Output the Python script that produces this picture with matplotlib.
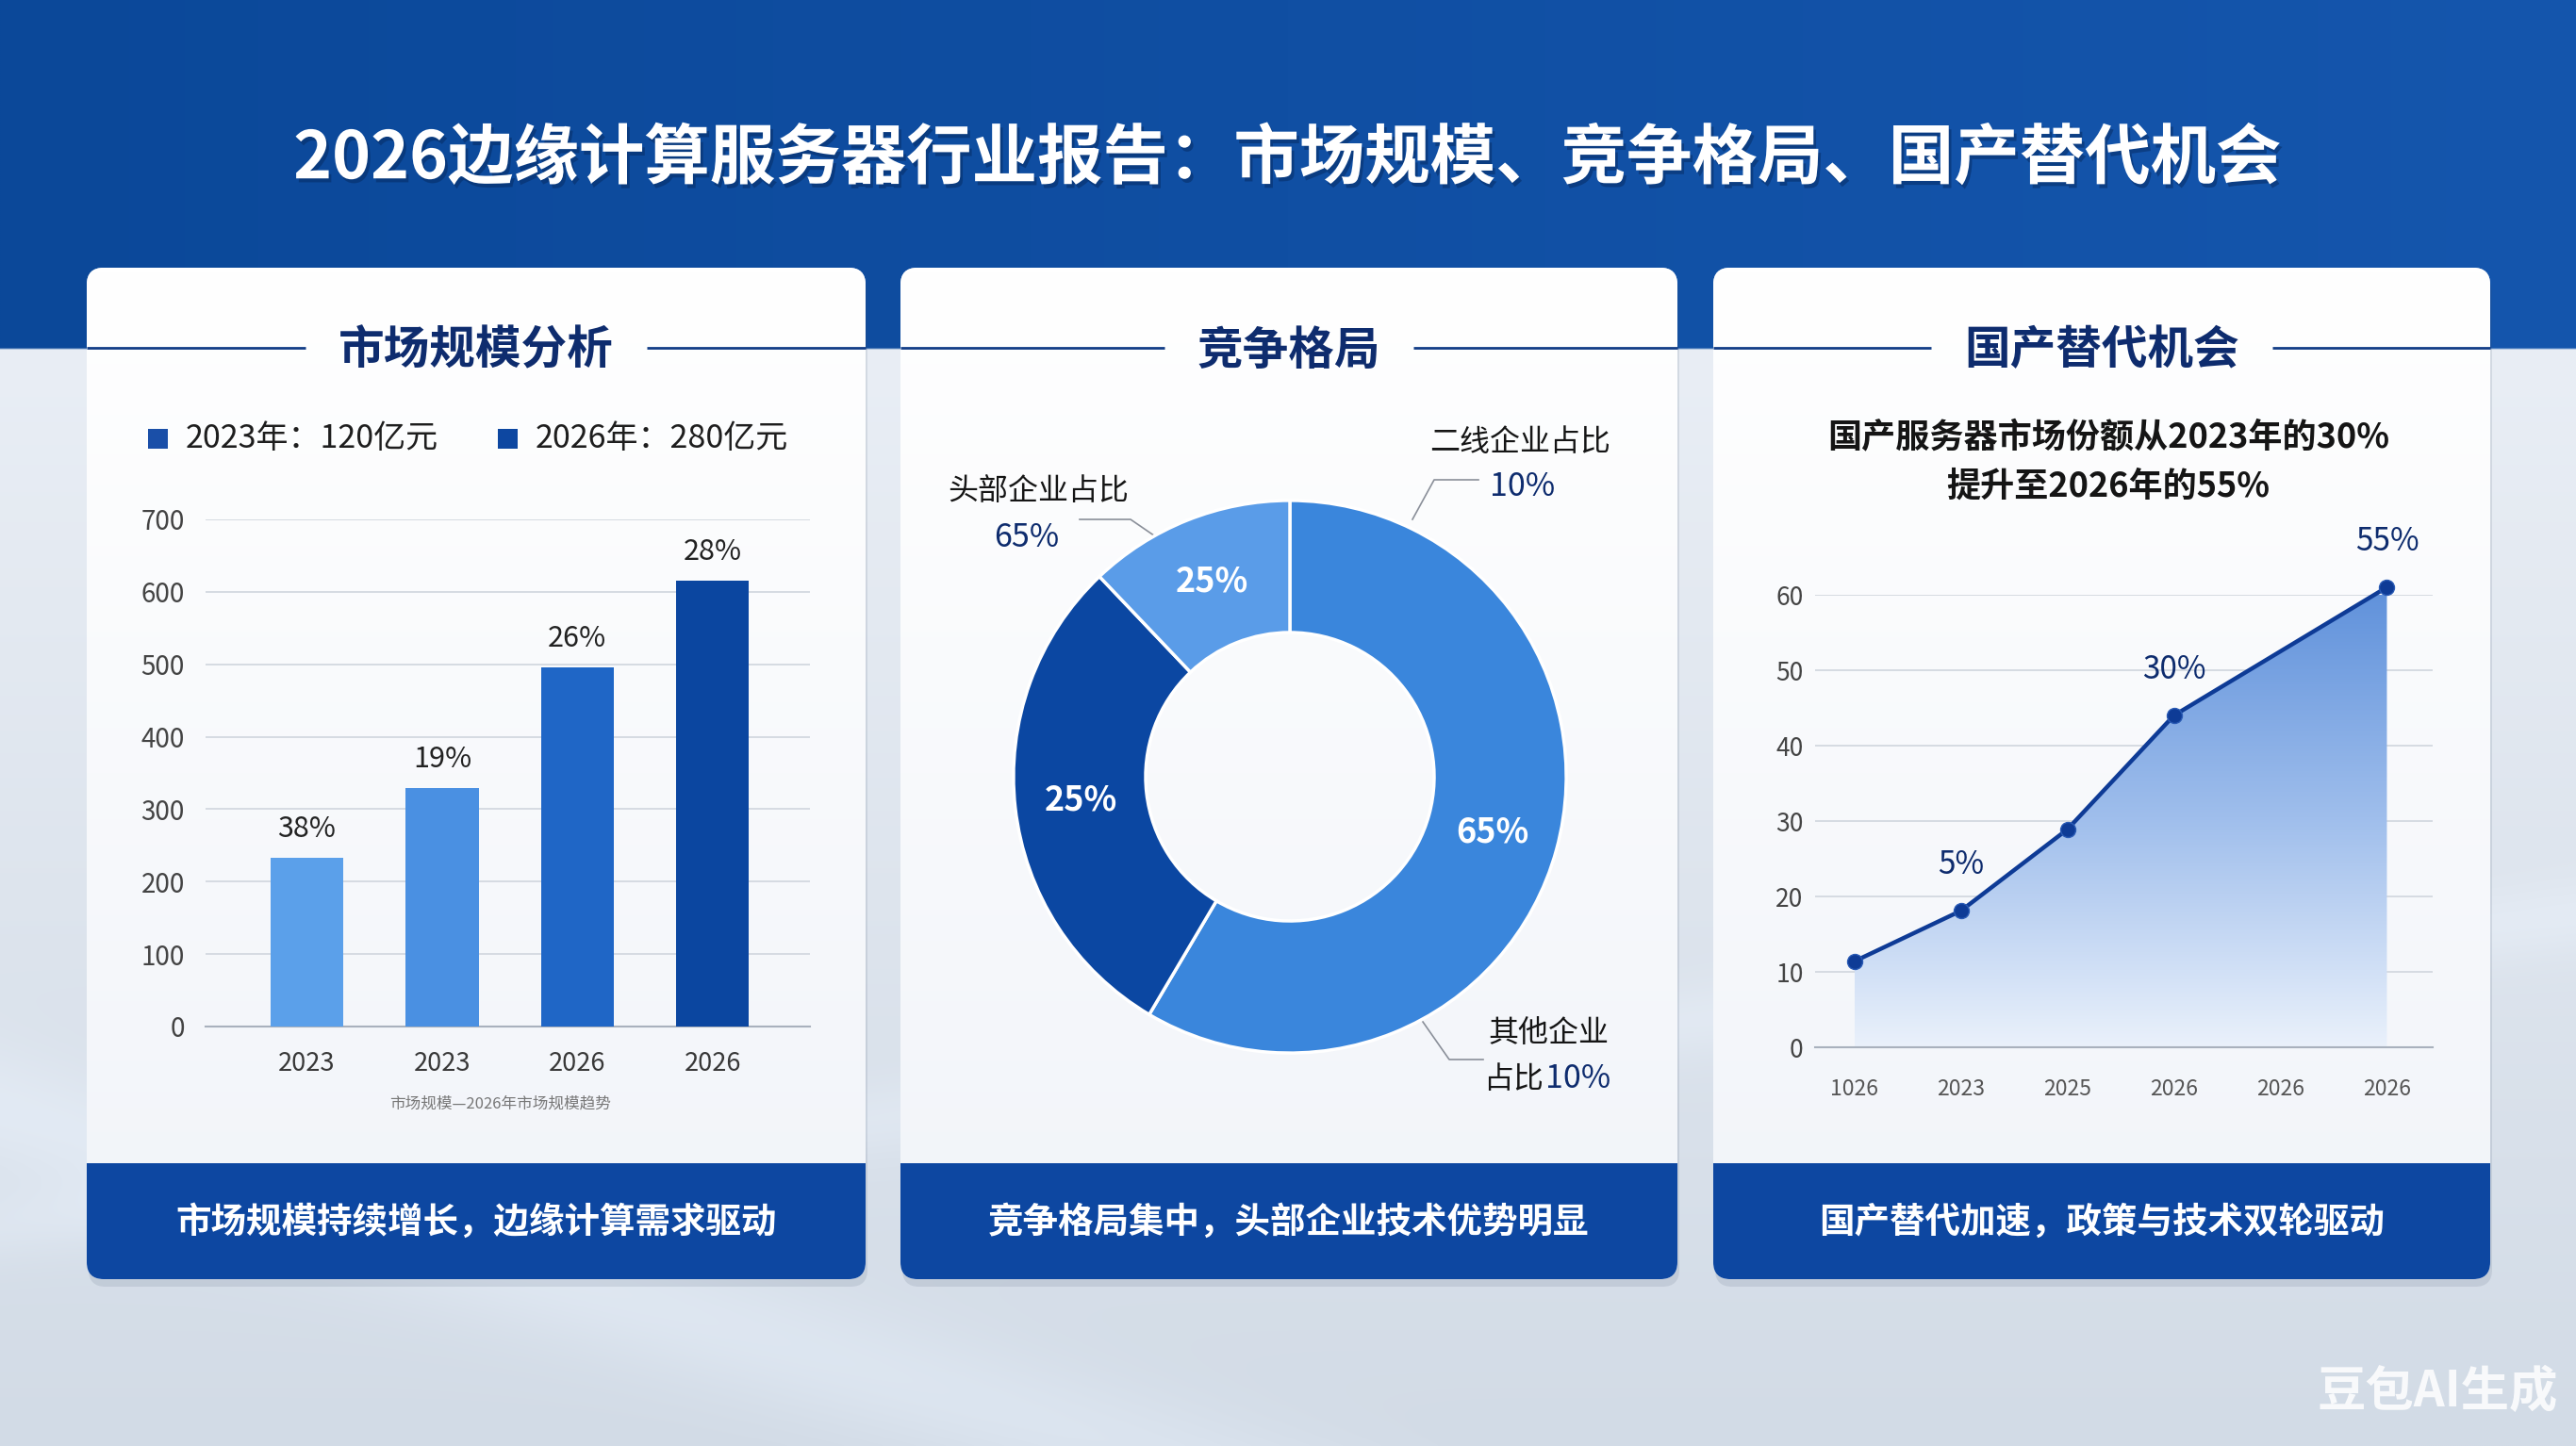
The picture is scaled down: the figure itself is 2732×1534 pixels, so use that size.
import matplotlib
matplotlib.use('Agg')
import matplotlib.pyplot as plt
import numpy as np
from matplotlib.patches import FancyBboxPatch, Rectangle, Polygon
from matplotlib.colors import LinearSegmentedColormap, to_rgb
import matplotlib.patheffects as pe

plt.rcParams['font.family'] = ['Noto Sans CJK SC', 'DejaVu Sans']

W, H = 2732, 1534
DPI = 100

# ---------------- data ----------------
title = "2026边缘计算服务器行业报告：市场规模、竞争格局、国产替代机会"
card_titles = ["市场规模分析", "竞争格局", "国产替代机会"]
card_footers = ["市场规模持续增长，边缘计算需求驱动",
                "竞争格局集中，头部企业技术优势明显",
                "国产替代加速，政策与技术双轮驱动"]

legend_labels = ["2023年：120亿元", "2026年：280亿元"]
bar_categories = ["2023", "2023", "2026", "2026"]
bar_values = [233, 329, 496, 615]
bar_labels = ["38%", "19%", "26%", "28%"]
bar_yticks = [0, 100, 200, 300, 400, 500, 600, 700]
bar_caption = "市场规模—2026年市场规模趋势"

pie_values = [58.5, 29.4, 12.1]
pie_inner_labels = ["65%", "25%", "25%"]
pie_name_top_left = ["头部企业占比", "65%"]
pie_name_top_right = ["二线企业占比", "10%"]
pie_name_bottom = ["其他企业", "占比", "10%"]

line_subtitle = ["国产服务器市场份额从2023年的30%", "提升至2026年的55%"]
line_xticklabels = ["1026", "2023", "2025", "2026", "2026", "2026"]
line_x_idx = [0, 1, 2, 3, 5]
line_values = [11.4, 18.1, 28.9, 44.0, 61.0]
line_point_labels = ["", "5%", "", "30%", "55%"]
line_yticks = [0, 10, 20, 30, 40, 50, 60]

watermark = "豆包AI生成"

# ---------------- colours ----------------
NAVY = '#0E2C6E'
FOOT = '#0D47A1'
bar_colors = ['#5BA0EA', '#4A90E2', '#1F66C6', '#0B46A0']
pie_colors = ['#3A86DC', '#0B47A2', '#5A9CE8']

fig = plt.figure(figsize=(W / DPI, H / DPI), dpi=DPI)
bg = fig.add_axes([0, 0, 1, 1])
bg.set_xlim(0, W)
bg.set_ylim(H, 0)
bg.axis('off')

# background image
hh, ww = 767, 1366
ys = np.linspace(0, H, hh)[:, None]
xs = np.linspace(0, W, ww)[None, :]
ctop_c = np.array(to_rgb('#E9EEF5'))
cbot_c = np.array(to_rgb('#D2DBE6'))
t = np.clip((ys - 370) / (H - 370), 0, 1)
img = np.ones((hh, ww, 3)) * (ctop_c * (1 - t[..., None]) + cbot_c * t[..., None])
d1 = ys - (0.30 * xs + 1180)
d2 = ys - (-0.12 * xs + 1300)
img += (np.exp(-(d1 / 70) ** 2) * 0.035)[..., None]
img += (np.exp(-(d2 / 40) ** 2) * 0.025)[..., None]
bl = np.array(to_rgb('#0B4899'))
br = np.array(to_rgb('#1556AD'))
s = xs / W
hdr = bl * (1 - s[..., None]) + br * s[..., None]
mask = (ys < 370)
img = np.where(mask[..., None], hdr, img)
bg.imshow(np.clip(img, 0, 1), extent=[0, W, H, 0], aspect='auto',
          interpolation='bilinear', zorder=0)
bg.set_xlim(0, W)
bg.set_ylim(H, 0)

# title
bg.text(W / 2, 169, title, color='white', fontsize=50, fontweight='bold',
        ha='center', va='center', zorder=5,
        path_effects=[pe.withSimplePatchShadow(offset=(2, -3), shadow_rgbFace='#062A60', alpha=0.5)])

# cards
cards = [(92, 918), (955, 1779), (1817, 2641)]
ctop, cbot, ftop = 284, 1357, 1234
card_grad = LinearSegmentedColormap.from_list('cg', ['#FFFFFF', '#F1F4F9'])
for i, (x0, x1) in enumerate(cards):
    sh = FancyBboxPatch((x0 + 2, ctop + 8), x1 - x0, cbot - ctop,
                        boxstyle='round,pad=0,rounding_size=18',
                        fc='#3A4B66', ec='none', alpha=0.12, zorder=1)
    bg.add_patch(sh)
    card = FancyBboxPatch((x0, ctop), x1 - x0, cbot - ctop,
                          boxstyle='round,pad=0,rounding_size=18',
                          fc='white', ec='none', zorder=2)
    bg.add_patch(card)
    gim = bg.imshow(np.linspace(0, 1, 200).reshape(-1, 1), cmap=card_grad,
                    extent=[x0, x1, cbot, ctop], aspect='auto', zorder=2.1)
    gim.set_clip_path(card)
    foot = FancyBboxPatch((x0, ftop), x1 - x0, cbot - ftop,
                          boxstyle='round,pad=0,rounding_size=18',
                          fc=FOOT, ec='none', zorder=3)
    bg.add_patch(foot)
    bg.add_patch(Rectangle((x0, ftop), x1 - x0, 40, fc=FOOT, ec='none', zorder=3))
    cx = (x0 + x1) / 2
    bg.text(cx, 1296, card_footers[i], color='white', fontsize=27,
            fontweight='bold', ha='center', va='center', zorder=5)
bg.set_xlim(0, W)
bg.set_ylim(H, 0)

# card titles with side rules
title_texts = []
for i, (x0, x1) in enumerate(cards):
    cx = (x0 + x1) / 2
    tt = bg.text(cx, 372, card_titles[i], color=NAVY, fontsize=35,
                 fontweight='bold', ha='center', va='center', zorder=5)
    title_texts.append(tt)
fig.canvas.draw()
rend = fig.canvas.get_renderer()
for i, (x0, x1) in enumerate(cards):
    bb = title_texts[i].get_window_extent(rend)
    gap = 35
    bg.plot([x0, bb.x0 - gap], [369, 369], color='#123D86', lw=2, zorder=5,
            solid_capstyle='butt')
    bg.plot([bb.x1 + gap, x1], [369, 369], color='#123D86', lw=2, zorder=5,
            solid_capstyle='butt')


def add_ax(x0, y0, x1, y1):
    a = fig.add_axes([x0 / W, 1 - y1 / H, (x1 - x0) / W, (y1 - y0) / H])
    a.set_facecolor('none')
    return a


# ---------------- bar chart ----------------
leg_x = [167, 538]
leg_cols = ['#1A4FA8', '#0D47A1']
for i in range(2):
    bg.add_patch(Rectangle((leg_x[i] - 10, 465 - 10), 21, 21, fc=leg_cols[i],
                           ec='none', zorder=5))
    bg.text(leg_x[i] + 30, 465, legend_labels[i], fontsize=24.5, color='#1E1E1E',
            ha='left', va='center', zorder=5)

ax1 = add_ax(218, 551, 859, 1089)
xpos = np.arange(len(bar_values))
ax1.bar(xpos, bar_values, width=0.54, color=bar_colors, zorder=3)
ax1.set_xlim(-0.75, 3.72)
ax1.set_ylim(0, 700)
ax1.set_yticks(bar_yticks)
ax1.set_yticklabels([str(v) for v in bar_yticks])
ax1.set_xticks(xpos)
ax1.set_xticklabels(bar_categories)
ax1.yaxis.grid(True, color='#D3D8E0', lw=1.3, zorder=0)
ax1.set_axisbelow(True)
for sp in ['top', 'right', 'left']:
    ax1.spines[sp].set_visible(False)
ax1.spines['bottom'].set_color('#A9B1BD')
ax1.spines['bottom'].set_linewidth(1.5)
ax1.tick_params(axis='y', length=0, pad=16, labelsize=20, labelcolor='#444444')
ax1.tick_params(axis='x', length=0, pad=19, labelsize=19.5, labelcolor='#383838')
for i, v in enumerate(bar_values):
    ax1.annotate(bar_labels[i], (xpos[i], v), xytext=(0, 22),
                 textcoords='offset points', ha='center', va='center',
                 fontsize=22, color='#222222')
bg.text(531, 1171, bar_caption, fontsize=12, color='#777777', ha='center',
        va='center', zorder=5)

# ---------------- donut ----------------
ax2 = add_ax(1068, 524, 1668, 1124)
wedges, _ = ax2.pie(pie_values, colors=pie_colors, startangle=90, counterclock=False,
                    radius=0.977,
                    wedgeprops=dict(width=0.467, edgecolor='white', linewidth=2.5))
ax2.set_xlim(-1, 1)
ax2.set_ylim(-1, 1)
ax2.set_aspect('equal')
rmid = 0.977 - 0.467 / 2
for w, lab in zip(wedges, pie_inner_labels):
    th = np.deg2rad((w.theta1 + w.theta2) / 2)
    ax2.text(rmid * np.cos(th), rmid * np.sin(th), lab, color='white',
             fontsize=26, fontweight='bold', ha='center', va='center')

lc = '#8A8F99'
bg.plot([1145, 1199, 1234], [551, 551, 575], color=lc, lw=1.2, zorder=5)
bg.plot([1568, 1521, 1498], [509, 509, 551], color=lc, lw=1.2, zorder=5)
bg.plot([1509, 1537, 1573], [1084, 1124, 1124], color=lc, lw=1.2, zorder=5)
bg.text(1101, 521, pie_name_top_left[0], fontsize=23, color='#151515',
        ha='center', va='center', zorder=5)
bg.text(1089, 570, pie_name_top_left[1], fontsize=24.5, color=NAVY,
        ha='center', va='center', zorder=5)
bg.text(1612, 469, pie_name_top_right[0], fontsize=23, color='#151515',
        ha='center', va='center', zorder=5)
bg.text(1615, 516, pie_name_top_right[1], fontsize=24.5, color=NAVY,
        ha='center', va='center', zorder=5)
bg.text(1643, 1096, pie_name_bottom[0], fontsize=23, color='#151515',
        ha='center', va='center', zorder=5)
bg.text(1637, 1145, pie_name_bottom[1], fontsize=23, color='#151515',
        ha='right', va='center', zorder=5)
bg.text(1639, 1145, pie_name_bottom[2], fontsize=24.5, color=NAVY,
        ha='left', va='center', zorder=5)

# ---------------- line / area chart ----------------
bg.text(2236, 465, line_subtitle[0], fontsize=26, fontweight='bold',
        color='#151515', ha='center', va='center', zorder=5)
bg.text(2236, 516, line_subtitle[1], fontsize=26, fontweight='bold',
        color='#151515', ha='center', va='center', zorder=5)

ax3 = add_ax(1925, 631, 2580, 1111)
area_cmap = LinearSegmentedColormap.from_list('ac', ['#EAF1FB', '#9FBEEC', '#5F91DB'])
grad = np.linspace(0, 1, 256).reshape(-1, 1)
im = ax3.imshow(grad, extent=[line_x_idx[0], line_x_idx[-1], 0, max(line_values)],
                origin='lower', aspect='auto', cmap=area_cmap, zorder=1)
verts = [(line_x_idx[0], 0)] + list(zip(line_x_idx, line_values)) + [(line_x_idx[-1], 0)]
poly = Polygon(verts, closed=True, fc='none', ec='none', transform=ax3.transData)
ax3.add_patch(poly)
im.set_clip_path(poly)
ax3.plot(line_x_idx, line_values, color='#0E3B96', lw=3.2, marker='o', ms=11.5,
         mfc='#0E3B96', mec='#2A5BB5', mew=1, zorder=5, clip_on=False)
for xi, v, lab in zip(line_x_idx, line_values, line_point_labels):
    if lab:
        ax3.annotate(lab, (xi, v), xytext=(0, 35), textcoords='offset points',
                     ha='center', va='center', fontsize=24, color=NAVY,
                     annotation_clip=False)
ax3.set_xlim(-0.37, 5.43)
ax3.set_ylim(0, 60)
ax3.set_yticks(line_yticks)
ax3.set_yticklabels([str(v) for v in line_yticks])
ax3.set_xticks(range(len(line_xticklabels)))
ax3.set_xticklabels(line_xticklabels)
ax3.yaxis.grid(True, color='#D3D8E0', lw=1.3, zorder=0)
ax3.set_axisbelow(True)
for sp in ['top', 'right', 'left']:
    ax3.spines[sp].set_visible(False)
ax3.spines['bottom'].set_color('#A9B1BD')
ax3.spines['bottom'].set_linewidth(1.5)
ax3.tick_params(axis='y', length=0, pad=9, labelsize=19, labelcolor='#444444')
ax3.tick_params(axis='x', length=0, pad=24, labelsize=16.5, labelcolor='#555555')

# watermark
bg.text(2585, 1476, watermark, fontsize=37, fontweight='bold', color='white',
        alpha=0.85, ha='center', va='center', zorder=6)

fig.savefig('out.png', dpi=DPI)
